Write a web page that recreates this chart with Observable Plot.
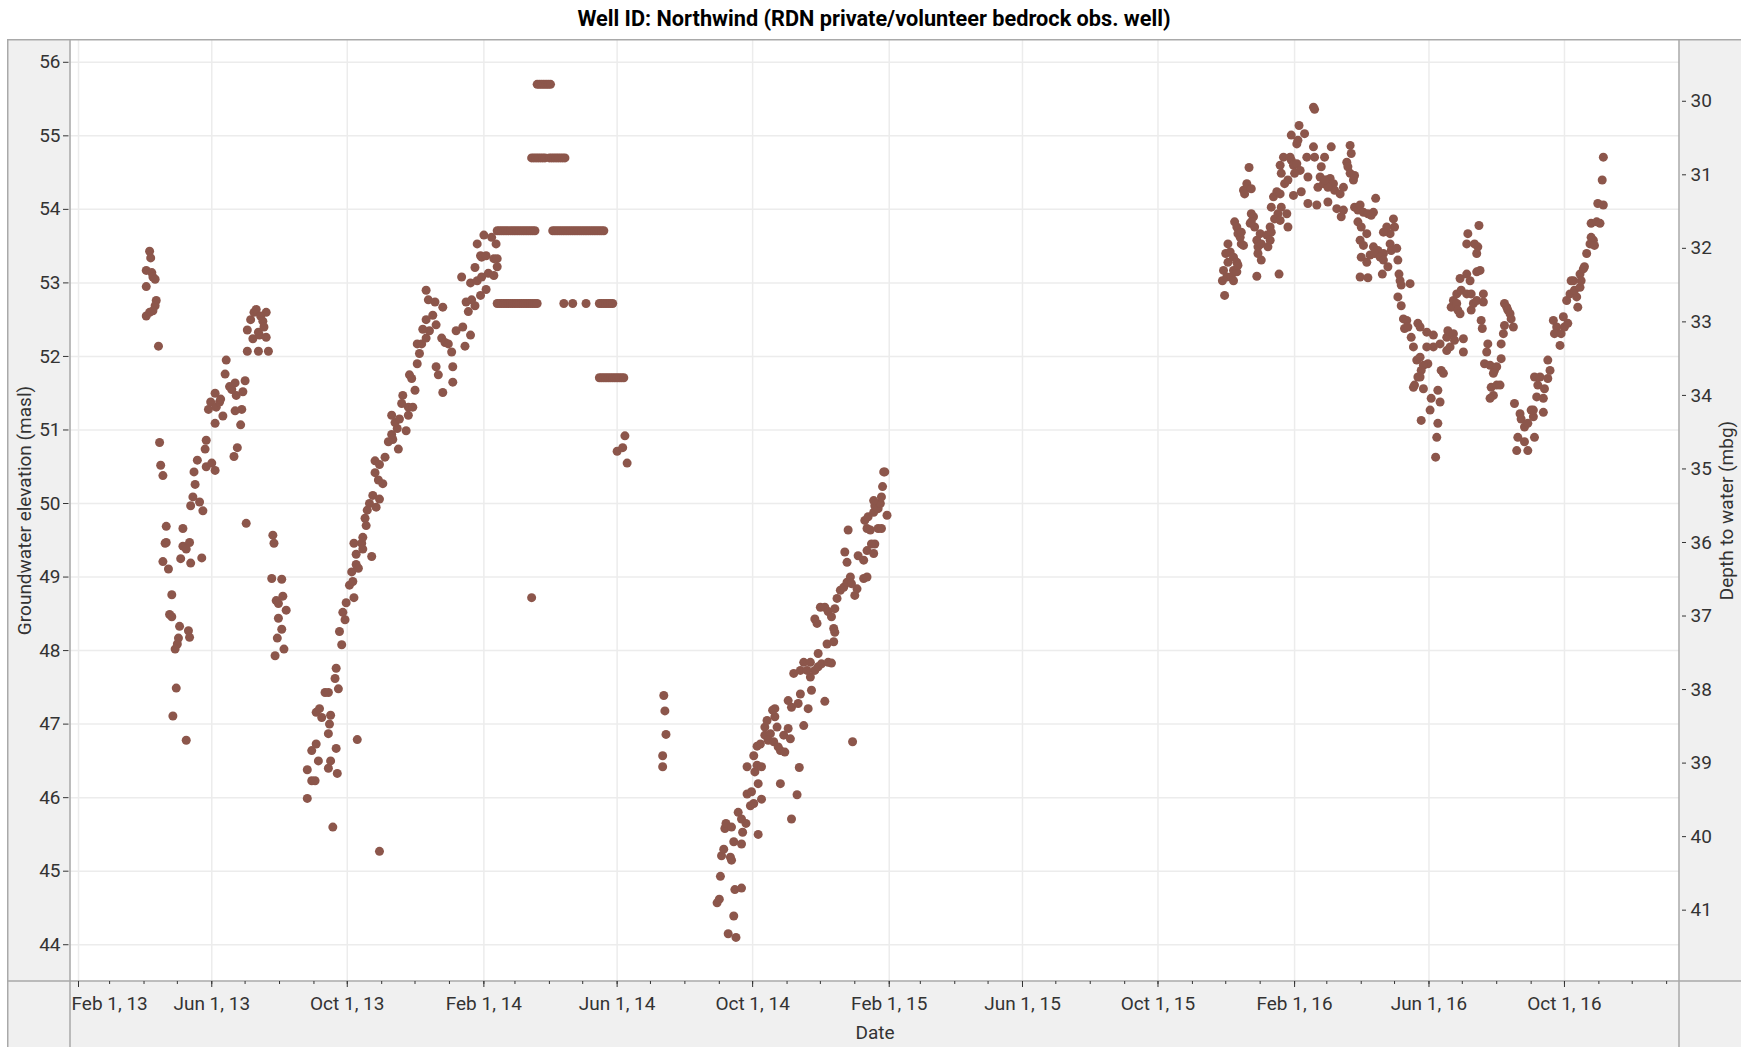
<!DOCTYPE html>
<html>
<head>
<meta charset="utf-8">
<script src="https://cdn.jsdelivr.net/npm/d3@7"></script>
<script src="https://cdn.jsdelivr.net/npm/@observablehq/plot@0.6"></script>
<style>
  html, body { margin: 0; padding: 0; background: #fff; overflow: hidden; }
  #title { position: absolute; left: 7px; top: 0; width: 1734px; height: 38px;
           text-align: center; font: bold 21.7px Roboto, sans-serif; line-height: 38px; color: #000; }
  #chart { position: absolute; left: 0; top: 39px; }
</style>
</head>
<body>
<div id="title">Well ID: Northwind (RDN private/volunteer bedrock obs. well)</div>
<div id="chart"></div>
<script>
// ---------- data (groundwater elevation, masl) ----------
const spring2013 = [
  ["2013-04-03",53.17],["2013-04-06",53.43],["2013-04-07",53.34],["2013-04-08",53.14],["2013-04-09",53.08],
  ["2013-04-11",53.05],["2013-04-03",52.95],["2013-04-12",52.76],["2013-04-11",52.69],["2013-04-09",52.62],
  ["2013-04-03",52.55],["2013-04-06",52.60],["2013-04-14",52.14],["2013-04-15",50.83],["2013-04-16",50.52],
  ["2013-04-18",50.38],["2013-04-21",49.69],["2013-04-21",49.47],["2013-04-20",49.46],["2013-04-18",49.21],
  ["2013-04-23",49.11],["2013-04-26",48.76],["2013-04-24",48.49],["2013-04-26",48.46],["2013-05-03",48.33],
  ["2013-05-02",48.17],["2013-05-01",48.09],["2013-04-29",48.02],["2013-04-30",47.49],["2013-04-27",47.11],
  ["2013-05-09",46.78],["2013-05-11",48.27],["2013-05-12",48.18],["2013-05-06",49.66],["2013-05-06",49.42],
  ["2013-05-12",49.47],["2013-05-04",49.25],["2013-05-13",49.19],["2013-05-23",49.26],["2013-05-09",49.38],
  ["2013-05-13",49.97],["2013-05-15",50.09],["2013-05-16",50.43],["2013-05-17",50.26],["2013-05-19",50.59],
  ["2013-05-21",50.02],["2013-05-24",49.90],["2013-05-26",50.74],["2013-05-27",50.86],["2013-05-27",50.50],
  ["2013-06-04",50.45],["2013-05-29",51.28],["2013-05-31",51.38],["2013-06-04",51.50],["2013-06-04",51.09],
  ["2013-06-05",51.31],["2013-06-08",51.38],["2013-06-11",51.19],["2013-06-13",51.76],["2013-06-14",51.95],
  ["2013-06-17",51.59],["2013-06-22",51.64],["2013-06-22",51.26],["2013-06-23",51.47],["2013-06-21",50.64],
  ["2013-06-24",50.76],["2013-06-27",51.07],["2013-06-28",51.28],["2013-06-29",51.52],["2013-07-01",51.67],
  ["2013-07-02",49.73],["2013-06-01",50.55],["2013-06-09",51.42],["2013-06-19",51.55],
  ["2013-07-03",52.36],["2013-07-03",52.07],["2013-07-06",52.50],["2013-07-08",52.24],["2013-07-09",52.60],
  ["2013-07-11",52.64],["2013-07-13",52.33],["2013-07-13",52.07],["2013-07-14",52.29],["2013-07-17",52.48],
  ["2013-07-20",52.60],["2013-07-20",52.26],["2013-07-22",52.07],["2013-07-15",52.55],["2013-07-18",52.40],
  ["2013-07-26",49.57],["2013-07-27",49.46],["2013-07-25",48.98],["2013-08-03",48.97],["2013-07-29",48.68],
  ["2013-08-04",48.74],["2013-07-31",48.64],["2013-08-07",48.55],["2013-07-31",48.44],["2013-08-03",48.29],
  ["2013-07-30",48.17],["2013-08-05",48.02],["2013-07-28",47.93]
];

const fall2013 = [
  ["2013-08-26",45.99],["2013-08-26",46.38],["2013-08-30",46.23],["2013-09-02",46.23],["2013-09-05",46.50],
  ["2013-08-30",46.64],["2013-09-03",46.73],["2013-09-14",46.40],["2013-09-16",46.50],["2013-09-22",46.33],
  ["2013-09-21",46.67],["2013-09-14",46.87],["2013-09-15",47.00],["2013-09-16",47.12],["2013-09-03",47.16],
  ["2013-09-08",47.09],["2013-09-06",47.21],["2013-09-11",47.43],["2013-09-14",47.43],["2013-09-21",47.76],
  ["2013-09-20",47.62],["2013-09-23",47.48],["2013-09-18",45.60],["2013-10-30",45.27],["2013-10-10",46.79],
  ["2013-09-26",48.08],["2013-09-24",48.26],["2013-09-29",48.42],["2013-09-27",48.52],["2013-09-30",48.65],
  ["2013-10-07",48.72],["2013-10-03",48.89],["2013-10-06",48.94],["2013-10-05",49.07],["2013-10-09",49.17],
  ["2013-10-11",49.12],["2013-10-09",49.31],["2013-10-14",49.46],["2013-10-15",49.38],["2013-10-23",49.28],
  ["2013-10-07",49.46],["2013-10-15",49.54],["2013-10-19",49.91],["2013-10-17",49.80],["2013-10-18",49.70],
  ["2013-10-21",50.00],["2013-10-24",50.11],["2013-10-27",49.95],["2013-10-30",50.06],["2013-10-29",50.32],
  ["2013-10-26",50.42],["2013-11-02",50.27],["2013-10-26",50.58],["2013-10-30",50.53],["2013-11-04",50.63],
  ["2013-11-07",50.84],["2013-11-11",50.87],["2013-11-16",50.74],["2013-11-10",50.94],["2013-11-15",51.02],
  ["2013-11-13",51.10],["2013-11-10",51.20],["2013-11-17",51.15],["2013-11-23",50.99],["2013-11-25",51.20],
  ["2013-11-19",51.36],["2013-11-20",51.47],["2013-11-25",51.31],["2013-11-29",51.31],["2013-12-01",51.54],
  ["2013-11-28",51.70],["2013-11-26",51.75],["2013-12-03",51.90],["2013-12-05",52.04],["2013-12-03",52.17],
  ["2013-12-07",52.17],["2013-12-11",52.25],["2013-12-14",52.35],["2013-12-08",52.37],["2013-12-11",52.50],
  ["2013-12-17",52.56],["2013-12-13",52.77],["2013-12-11",52.90],["2013-12-19",52.74],["2013-12-26",52.67],
  ["2013-12-20",52.43],["2013-12-25",52.25],["2013-12-28",52.19],["2013-12-20",51.86],["2013-12-22",51.75],
  ["2013-12-26",51.51],["2014-01-04",51.65],["2014-01-04",51.86],["2014-01-03",52.06],["2013-12-31",52.17],
  ["2014-01-07",52.35],["2014-01-13",52.40],["2014-01-15",52.14],["2014-01-20",52.29],["2014-01-18",52.61],
  ["2014-01-24",52.69],["2014-01-16",52.74],["2014-01-12",53.08],["2014-01-20",53.00],["2014-01-24",53.21],
  ["2014-01-26",53.03],["2014-01-21",52.77],["2014-01-29",53.37],["2014-01-26",53.53],["2014-01-30",53.35],
  ["2014-01-30",53.08],["2014-02-01",53.65],["2014-02-03",53.37],["2014-02-05",53.13],["2014-02-08",53.62],
  ["2014-02-12",53.53],["2014-02-10",53.33],["2014-02-13",53.33],["2014-02-13",53.22],["2014-02-10",53.10],
  ["2014-02-03",52.91],["2014-01-29",52.83]
];

// 2014 plateau runs (repeated readings at one level)
const plateauA_dates = ["2014-02-13","2014-02-15","2014-02-17","2014-02-19","2014-02-21","2014-02-23","2014-02-25",
  "2014-02-27","2014-03-01","2014-03-03","2014-03-05","2014-03-07","2014-03-09","2014-03-11","2014-03-13",
  "2014-03-15","2014-03-17","2014-03-19"];
const plateauA_level = 53.71;
const plateauB_dates = ["2014-02-13","2014-02-15","2014-02-17","2014-02-19","2014-02-21","2014-02-23","2014-02-25",
  "2014-02-27","2014-03-01","2014-03-03","2014-03-05","2014-03-07","2014-03-09","2014-03-11","2014-03-13",
  "2014-03-15","2014-03-17","2014-03-19","2014-03-21","2014-04-14","2014-04-22","2014-05-04","2014-05-16",
  "2014-05-18","2014-05-20","2014-05-22","2014-05-24","2014-05-26","2014-05-28"];
const plateauB_level = 52.72;
const plateauC_dates = ["2014-03-21","2014-03-23","2014-03-25","2014-03-27","2014-03-29","2014-03-31","2014-04-02"];
const plateauC_level = 55.70;
const plateauD_dates = ["2014-03-16","2014-03-18","2014-03-20","2014-03-22","2014-03-24","2014-03-26","2014-03-28",
  "2014-04-01","2014-04-03","2014-04-05","2014-04-07","2014-04-09","2014-04-11","2014-04-13","2014-04-15"];
const plateauD_level = 54.70;
const plateauE_dates = ["2014-04-04","2014-04-06","2014-04-08","2014-04-10","2014-04-12","2014-04-14","2014-04-16",
  "2014-04-18","2014-04-20","2014-04-22","2014-04-24","2014-04-26","2014-04-28","2014-04-30","2014-05-02",
  "2014-05-04","2014-05-06","2014-05-08","2014-05-10","2014-05-12","2014-05-14","2014-05-16","2014-05-18","2014-05-20"];
const plateauE_level = 53.71;
const plateauF_dates = ["2014-05-16","2014-05-18","2014-05-20","2014-05-22","2014-05-24","2014-05-26","2014-05-28",
  "2014-05-30","2014-06-01","2014-06-03","2014-06-05","2014-06-07"];
const plateauF_level = 51.71;

const summer2014 = [
  ["2014-03-16",48.72],["2014-06-01",50.71],["2014-06-06",50.76],["2014-06-08",50.92],["2014-06-10",50.55],
  ["2014-07-12",46.57],["2014-07-12",46.42],["2014-07-13",47.39],["2014-07-14",47.18],["2014-07-15",46.86]
];

const fall2014 = [
  ["2014-09-09",44.15],["2014-09-16",44.10],["2014-09-14",44.39],["2014-08-30",44.57],["2014-09-01",44.62],
  ["2014-09-02",44.93],["2014-09-15",44.75],["2014-09-21",44.77],["2014-09-03",45.21],["2014-09-05",45.30],
  ["2014-09-11",45.19],["2014-09-12",45.15],["2014-09-14",45.40],["2014-09-21",45.37],["2014-09-06",45.58],
  ["2014-09-07",45.65],["2014-09-12",45.60],["2014-09-22",45.53],["2014-09-18",45.80],["2014-09-21",45.71],
  ["2014-09-25",45.65],["2014-10-06",45.50],["2014-09-26",46.05],["2014-09-30",46.08],["2014-09-29",45.89],
  ["2014-10-09",45.98],["2014-10-02",45.92],["2014-10-06",46.19],["2014-10-26",46.19],["2014-11-05",45.71],
  ["2014-11-10",46.04],["2014-11-12",46.41],["2014-09-26",46.42],["2014-10-03",46.35],["2014-10-05",46.44],
  ["2014-10-09",46.42],["2014-10-02",46.57],["2014-10-05",46.70],["2014-10-08",46.73],["2014-10-12",46.85],
  ["2014-10-17",46.87],["2014-10-15",46.78],["2014-10-20",46.76],["2014-10-24",46.69],["2014-10-26",46.64],
  ["2014-10-30",46.62],["2014-10-12",46.96],["2014-10-14",47.05],["2014-10-21",47.10],["2014-10-23",46.96],
  ["2014-10-21",47.21],["2014-10-19",47.19],["2014-10-29",46.85],["2014-11-02",46.94],["2014-11-04",46.80],
  ["2014-11-02",47.32],["2014-11-05",47.23],["2014-11-13",47.41],["2014-11-11",47.28],["2014-11-20",47.21],
  ["2014-11-16",46.98],["2014-11-23",47.46],["2014-12-05",47.31],["2014-12-30",46.76],["2014-11-07",47.69],
  ["2014-11-13",47.73],["2014-11-16",47.84],["2014-11-22",47.84],["2014-11-26",47.73],["2014-11-22",47.64],
  ["2014-11-19",47.73],["2014-11-29",47.78],["2014-12-02",47.82],["2014-11-29",47.96],["2014-12-07",48.09],
  ["2014-12-13",48.12],["2014-12-14",48.25],["2014-12-13",48.30],["2014-12-08",47.84],["2014-12-11",47.83],
  ["2014-11-26",48.43],["2014-11-28",48.37],["2014-12-01",48.59],["2014-12-05",48.59],["2014-12-08",48.53],
  ["2014-12-11",48.46],["2014-12-14",48.57],["2014-12-16",48.71],["2014-12-19",48.82],["2014-12-22",48.86],
  ["2014-12-25",48.93],["2014-12-28",49.00],["2014-12-29",48.91],["2015-01-01",48.75],["2015-01-03",48.84],
  ["2015-01-09",48.98],["2015-01-12",49.00],["2014-12-23",49.34],["2014-12-25",49.20],["2015-01-04",49.29],
  ["2015-01-09",49.23],["2015-01-12",49.36],["2015-01-18",49.32],["2015-01-19",49.45],["2015-01-16",49.45],
  ["2014-12-26",49.64],["2015-01-10",49.77],["2015-01-13",49.82],["2015-01-12",49.66],["2015-01-15",49.64],
  ["2015-01-22",49.66],["2015-01-25",49.66],["2015-01-18",49.88],["2015-01-19",49.97],["2015-01-22",49.93],
  ["2015-01-24",50.00],["2015-01-30",49.84],["2015-01-18",50.04],["2015-01-25",50.09],["2015-01-26",50.23],
  ["2015-01-27",50.43],["2015-01-28",50.43]
];

const record2016 = [
  ["2015-11-30",52.83],["2015-11-28",53.03],["2015-11-29",53.17],["2015-12-02",53.08],["2015-12-03",53.53],
  ["2015-12-01",53.40],["2015-12-05",53.42],["2015-12-03",53.28],["2015-12-06",53.08],["2015-12-08",53.03],
  ["2015-12-08",53.17],["2015-12-11",53.15],["2015-12-08",53.35],["2015-12-11",53.28],["2015-12-12",53.24],
  ["2015-12-09",53.83],["2015-12-11",53.76],["2015-12-12",53.67],["2015-12-14",53.62],["2015-12-15",53.53],
  ["2015-12-17",53.51],["2015-12-15",53.69],["2015-12-22",54.57],["2015-12-17",54.26],["2015-12-20",54.35],
  ["2015-12-24",54.28],["2015-12-18",54.21],["2015-12-24",53.94],["2015-12-26",53.90],["2015-12-23",53.81],
  ["2015-12-27",53.76],["2015-12-24",53.83],["2015-12-29",53.58],["2015-12-30",53.49],["2016-01-01",53.67],
  ["2016-01-02",53.31],["2015-12-29",53.09],["2015-12-30",53.40],["2016-01-02",53.53],["2016-01-07",53.65],
  ["2016-01-10",53.76],["2016-01-11",53.69],["2016-01-10",53.58],["2016-01-08",53.49],["2016-01-18",53.12],
  ["2016-01-11",54.03],["2016-01-13",54.17],["2016-01-16",54.24],["2016-01-19",54.21],["2016-01-20",54.03],
  ["2016-01-17",53.94],["2016-01-14",53.87],["2016-01-19",53.85],["2016-01-25",53.94],["2016-01-26",53.76],
  ["2016-01-19",54.60],["2016-01-20",54.49],["2016-01-23",54.35],["2016-01-26",54.40],["2016-01-22",54.71],
  ["2016-01-28",54.71],["2016-01-29",54.67],["2016-01-31",54.60],["2016-02-03",54.62],["2016-02-06",54.53],
  ["2016-02-01",54.49],["2016-01-29",55.01],["2016-02-03",54.89],["2016-02-05",55.14],["2016-02-10",55.03],
  ["2016-02-04",54.94],["2016-02-18",55.39],["2016-02-19",55.36],["2016-01-31",54.19],["2016-02-07",54.24],
  ["2016-02-13",54.08],["2016-02-21",54.06],["2016-03-02",54.10],["2016-03-10",54.01],["2016-03-14",53.90],
  ["2016-03-16",53.99],["2016-02-12",54.71],["2016-02-19",54.71],["2016-02-28",54.71],["2016-03-05",54.85],
  ["2016-02-18",54.85],["2016-02-25",54.58],["2016-03-01",54.40],["2016-03-04",54.42],["2016-03-07",54.35],
  ["2016-03-08",54.26],["2016-02-22",54.30],["2016-02-27",54.35],["2016-03-02",54.30],["2016-03-13",54.21],
  ["2016-03-16",54.30],["2016-02-13",54.44],["2016-02-24",54.44],["2016-02-28",54.40],["2016-03-22",54.87],
  ["2016-03-23",54.76],["2016-03-19",54.64],["2016-03-20",54.58],["2016-03-22",54.49],["2016-03-25",54.40],
  ["2016-03-26",54.46],["2016-03-26",54.03],["2016-03-29",53.99],["2016-03-31",54.06],["2016-04-03",53.96],
  ["2016-04-07",53.94],["2016-04-12",53.96],["2016-04-14",54.15],["2016-04-10",53.92],["2016-03-29",53.83],
  ["2016-04-01",53.76],["2016-04-06",53.67],["2016-03-31",53.58],["2016-04-03",53.51],["2016-04-12",53.49],
  ["2016-04-16",53.44],["2016-04-21",53.40],["2016-04-27",53.53],["2016-04-30",53.87],["2016-05-01",53.76],
  ["2016-04-27",53.67],["2016-04-24",53.76],["2016-04-21",53.69],["2016-04-01",53.35],["2016-04-06",53.28],
  ["2016-04-09",53.38],["2016-04-13",53.40],["2016-04-18",53.35],["2016-04-21",53.31],["2016-04-25",53.22],
  ["2016-04-28",53.44],["2016-05-03",53.47],["2016-05-04",53.31],["2016-04-20",53.12],["2016-03-31",53.08],
  ["2016-04-07",53.07],["2016-05-05",53.12],["2016-05-06",53.03],["2016-05-07",52.97],["2016-05-15",52.99],
  ["2016-05-04",52.81],["2016-05-07",52.69],["2016-05-09",52.51],["2016-05-12",52.49],["2016-05-10",52.38],
  ["2016-05-13",52.40],["2016-05-22",52.45],["2016-05-24",52.40],["2016-05-30",52.33],["2016-06-05",52.29],
  ["2016-06-05",52.13],["2016-05-16",52.26],["2016-05-18",52.13],["2016-05-21",51.95],["2016-05-24",51.99],
  ["2016-05-30",52.13],["2016-05-31",51.90],["2016-05-27",51.88],["2016-05-25",51.81],["2016-05-22",51.72],
  ["2016-05-19",51.61],["2016-05-18",51.58],["2016-05-24",51.72],["2016-05-27",51.56],["2016-06-03",51.43],
  ["2016-06-11",51.38],["2016-06-09",51.54],["2016-06-02",51.27],["2016-05-25",51.13],["2016-06-09",51.09],
  ["2016-06-08",50.90],["2016-06-07",50.63],["2016-06-12",51.81],["2016-06-14",51.77],["2016-06-11",52.17],
  ["2016-06-17",52.26],["2016-06-18",52.35],["2016-06-23",52.31],["2016-06-20",52.13],["2016-06-17",52.08],
  ["2016-06-24",52.22],["2016-07-02",52.24],["2016-07-02",52.06],["2016-06-21",52.67],["2016-06-23",52.76],
  ["2016-06-26",52.72],["2016-06-27",52.63],["2016-06-29",52.58],["2016-06-26",52.85],["2016-06-30",52.90],
  ["2016-07-05",52.85],["2016-07-09",52.85],["2016-07-09",52.63],["2016-07-11",52.72],["2016-07-14",52.76],
  ["2016-07-20",52.85],["2016-07-20",52.74],["2016-06-29",53.06],["2016-07-05",53.12],["2016-07-08",53.03],
  ["2016-07-14",53.15],["2016-07-17",53.17],["2016-07-14",53.40],["2016-07-15",53.49],["2016-07-12",53.53],
  ["2016-07-05",53.53],["2016-07-06",53.67],["2016-07-16",53.78],["2016-07-18",52.49],["2016-07-19",52.38],
  ["2016-07-24",52.17],["2016-07-23",52.06],["2016-07-21",51.90],["2016-07-26",51.88],["2016-07-30",51.81],
  ["2016-08-01",51.86],["2016-07-29",51.77],["2016-07-27",51.58],["2016-08-01",51.61],["2016-08-04",51.61],
  ["2016-07-29",51.47],["2016-07-26",51.43],["2016-08-05",51.97],["2016-08-08",52.72],["2016-08-10",52.67],
  ["2016-08-11",52.63],["2016-08-13",52.58],["2016-08-14",52.51],["2016-08-16",52.40],["2016-08-08",52.42],
  ["2016-08-07",52.31],["2016-08-05",52.17],["2016-08-17",51.36],["2016-08-22",51.22],["2016-08-23",51.15],
  ["2016-08-26",51.04],["2016-08-29",51.09],["2016-09-01",51.27],["2016-09-03",51.18],["2016-09-04",50.90],
  ["2016-08-20",50.90],["2016-08-19",50.72],["2016-08-26",50.84],["2016-08-29",50.72],["2016-09-04",51.72],
  ["2016-09-09",51.72],["2016-09-16",51.70],["2016-09-07",51.61],["2016-09-13",51.56],["2016-09-06",51.45],
  ["2016-09-12",51.43],["2016-09-16",51.95],["2016-09-18",51.81],["2016-09-12",51.24],["2016-09-03",51.27],
  ["2016-09-21",52.49],["2016-09-24",52.40],["2016-09-22",52.31],["2016-09-27",52.15],["2016-09-28",52.31],
  ["2016-09-30",52.54],["2016-10-01",52.40],["2016-10-04",52.45],["2016-10-03",52.76],["2016-10-06",52.85],
  ["2016-10-09",53.03],["2016-10-12",52.81],["2016-10-13",52.67],["2016-10-10",52.90],["2016-10-15",52.94],
  ["2016-10-15",53.12],["2016-10-18",53.19],["2016-10-19",53.22],["2016-10-16",53.03],["2016-10-07",53.03],
  ["2016-10-21",53.40],["2016-10-24",53.53],["2016-10-27",53.58],["2016-10-28",53.51],["2016-10-25",53.62],
  ["2016-10-25",53.81],["2016-10-30",53.83],["2016-11-02",53.81],["2016-10-31",54.08],["2016-11-05",54.06],
  ["2016-11-04",54.40],["2016-11-05",54.71]
];

// ---------- axes ----------
const yTicks = [44, 45, 46, 47, 48, 49, 50, 51, 52, 53, 54, 55, 56];
const depthTicks = [30, 31, 32, 33, 34, 35, 36, 37, 38, 39, 40, 41];
const groundElevation = 85.47; // depth to water = groundElevation - elevation
const xMajorTicks = ["2013-02-01","2013-06-01","2013-10-01","2014-02-01","2014-06-01","2014-10-01",
  "2015-02-01","2015-06-01","2015-10-01","2016-02-01","2016-06-01","2016-10-01"];
const xDomain = ["2013-01-24T19:00Z", "2017-01-12T14:00Z"];
const yDomain = [43.5, 56.31];
const yLabel = "Groundwater elevation (masl)";
const y2Label = "Depth to water (mbg)";
const xLabel = "Date";

// ---------- build ----------
const parse = s => new Date(s.length === 10 ? s + "T00:00:00Z" : s);
const rows = [];
for (const [d, v] of [...spring2013, ...fall2013, ...summer2014, ...fall2014, ...record2016]) rows.push({date: parse(d), value: v});
for (const [dates, level] of [[plateauA_dates, plateauA_level],[plateauB_dates, plateauB_level],[plateauC_dates, plateauC_level],
                              [plateauD_dates, plateauD_level],[plateauE_dates, plateauE_level],[plateauF_dates, plateauF_level]])
  for (const d of dates) rows.push({date: parse(d), value: level});

const majors = xMajorTicks.map(parse);
const dom = xDomain.map(parse);
const minors = d3.utcMonth.range(dom[0], dom[1]);
const fmt = d3.utcFormat("%b %-d, %y");
const gridColor = "#ececec";
const frameColor = "#a9a9a9";

function panelLines(index, scales, values, dims) {
  const {width, height, marginLeft, marginRight, marginBottom} = dims;
  const xl = marginLeft, xr = width - marginRight, yb = height - marginBottom;
  const g = d3.create("svg:g").attr("stroke", frameColor).attr("stroke-width", 1.5).attr("fill", "none");
  g.append("line").attr("x1", 7.75).attr("x2", 7.75).attr("y1", 0).attr("y2", height);
  g.append("line").attr("x1", 7).attr("x2", width).attr("y1", 0.75).attr("y2", 0.75);
  g.append("line").attr("x1", xl).attr("x2", xl).attr("y1", 0).attr("y2", height);
  g.append("line").attr("x1", xr).attr("x2", xr).attr("y1", 0).attr("y2", height);
  g.append("line").attr("x1", 7).attr("x2", width).attr("y1", yb).attr("y2", yb);
  return g.node();
}

const chart = Plot.plot({
  width: 1741,
  height: 1008,
  marginLeft: 70,
  marginRight: 62,
  marginTop: 0,
  marginBottom: 66,
  style: "background: linear-gradient(to right, #ffffff 0 7px, #f0f0f0 7px); font-family: Roboto, sans-serif; font-size: 19px; color: #333;",
  x: {type: "utc", domain: dom},
  y: {domain: yDomain},
  marks: [
    Plot.frame({fill: "white", stroke: null}),
    Plot.gridX(majors, {stroke: gridColor, strokeOpacity: 1, strokeWidth: 1.5}),
    Plot.gridY(yTicks, {stroke: gridColor, strokeOpacity: 1, strokeWidth: 1.5}),
    panelLines,
    Plot.axisY({ticks: yTicks, anchor: "left", tickSize: 5.5, tickPadding: 3, dx: -1.5, label: null}),
    Plot.axisY({ticks: depthTicks.map(d => groundElevation - d), anchor: "right", tickSize: 4, tickPadding: 5, dx: 2,
                tickFormat: v => String(Math.round(groundElevation - v)), label: null}),
    Plot.axisX({ticks: minors, tickSize: 3, tickFormat: () => "", label: null}),
    Plot.axisX({ticks: majors, tickSize: 6, tickPadding: 9, tickFormat: (d, i) => i === 0 ? "" : fmt(d), label: null}),
    Plot.axisX({ticks: majors.slice(0, 1), tickSize: 0, tickPadding: 15, tickFormat: fmt, textAnchor: "start", dx: -7, label: null}),
    Plot.text([yLabel], {frameAnchor: "left", textAnchor: "middle", rotate: -90, dx: -45.5, text: d => d, fill: "#333"}),
    Plot.text([y2Label], {frameAnchor: "right", textAnchor: "middle", rotate: -90, dx: 47.5, text: d => d, fill: "#333"}),
    Plot.text([xLabel], {frameAnchor: "bottom", dy: 57, text: d => d, fill: "#333"}),
    Plot.dot(rows, {x: "date", y: "value", r: 4.5, fill: "#8c564b"})
  ]
});
document.getElementById("chart").appendChild(chart);
</script>
</body>
</html>
